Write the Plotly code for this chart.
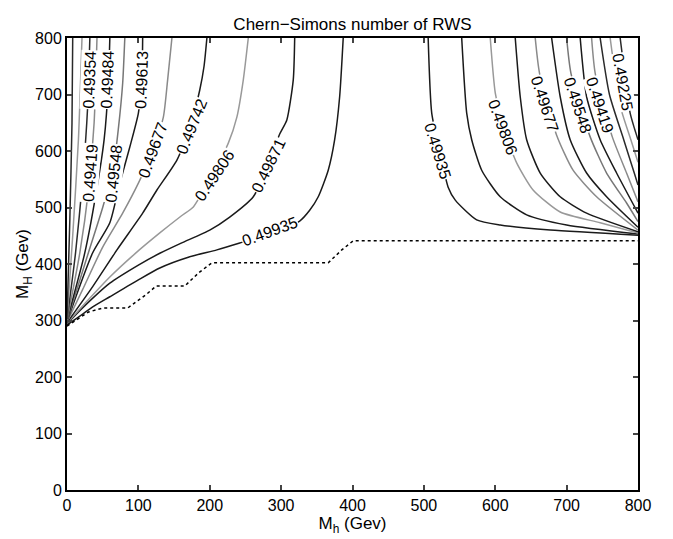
import plotly.graph_objects as go

# -------------------------------------------------
# Data (M_h, M_H in GeV)
# -------------------------------------------------
levels = [0.49935, 0.49871, 0.49806, 0.49742, 0.49677, 0.49613,
          0.49548, 0.49484, 0.49419, 0.49354, 0.4929, 0.49225]

# left-hand branch of each contour, same order as levels
left_49935_x = [0, 15, 36, 60, 100, 130, 170, 210, 242, 280, 326, 340, 352, 366, 375, 382, 387]
left_49935_y = [292, 305, 324, 342, 372, 393, 412, 425, 437, 452, 476, 495, 519, 566, 620, 696, 800]
left_49871_x = [0, 20, 60, 100, 130, 160, 200, 228, 261, 280, 298, 308, 317, 319]
left_49871_y = [294, 320, 366, 398, 419, 437, 460, 483, 519, 570, 630, 655, 726, 800]
left_49806_x = [0, 25, 60, 95, 130, 160, 177, 200, 226, 238, 247, 254]
left_49806_y = [295, 330, 377, 418, 455, 485, 501, 550, 614, 660, 726, 800]
left_49742_x = [0, 36, 70, 106, 126, 154, 172, 186, 192, 196]
left_49742_y = [296, 360, 425, 490, 531, 584, 640, 708, 750, 800]
left_49677_x = [0, 22, 50, 78, 100, 120, 135, 141, 147]
left_49677_y = [297, 355, 430, 490, 543, 600, 660, 726, 800]
left_49613_x = [0, 36, 60, 74, 88, 100, 105, 106]
left_49613_y = [298, 420, 473, 543, 607, 667, 730, 800]
left_49548_x = [0, 30, 50, 65, 72, 78, 81]
left_49548_y = [299, 420, 500, 570, 640, 720, 800]
left_49484_x = [0, 25, 40, 52, 58, 60]
left_49484_y = [300, 420, 520, 620, 720, 800]
left_49419_x = [0, 18, 30, 38, 42]
left_49419_y = [300, 420, 530, 650, 800]
left_49354_x = [0, 12, 22, 29, 32]
left_49354_y = [301, 420, 550, 680, 800]
left_4929_x = [0, 8, 16, 21]
left_4929_y = [301, 450, 620, 800]
left_49225_x = [0, 4, 7, 8]
left_49225_y = [302, 480, 650, 800]

# right-hand branch of each contour
right_49935_x = [506, 511, 522, 534, 544, 574, 607, 677, 800]
right_49935_y = [800, 667, 600, 536, 513, 478, 469, 460, 451]
right_49871_x = [553, 560, 567, 581, 607, 644, 700, 800]
right_49871_y = [800, 667, 620, 566, 519, 487, 469, 453]
right_49806_x = [593, 600, 611, 630, 653, 691, 747, 800]
right_49806_y = [800, 703, 642, 579, 531, 492, 473, 455]
right_49742_x = [628, 635, 644, 663, 691, 728, 800]
right_49742_y = [800, 696, 620, 561, 519, 490, 457]
right_49677_x = [656, 662, 686, 709, 742, 800]
right_49677_y = [800, 738, 628, 566, 519, 460]
right_49613_x = [679, 691, 705, 728, 756, 800]
right_49613_y = [800, 696, 620, 561, 519, 465]
right_49548_x = [700, 706, 733, 756, 784, 800]
right_49548_y = [800, 738, 625, 561, 508, 475]
right_49484_x = [719, 728, 747, 770, 800]
right_49484_y = [800, 696, 620, 561, 490]
right_49419_x = [735, 740, 764, 784, 800]
right_49419_y = [800, 738, 625, 561, 510]
right_49354_x = [747, 760, 780, 795, 800]
right_49354_y = [800, 700, 620, 560, 540]
right_4929_x = [761, 775, 790, 800]
right_4929_y = [800, 680, 620, 580]
right_49225_x = [775, 779, 789, 795, 800]
right_49225_y = [800, 760, 667, 640, 620]

# dotted boundary
bound_x = [0, 30, 50, 85, 110, 125, 165, 185, 203, 366, 385, 401, 800]
bound_y = [290, 315, 322, 322, 345, 361, 361, 385, 402, 402, 425, 441, 441]

# inline contour labels
label_text = ["0.49354", "0.49484", "0.49613", "0.49419", "0.49548", "0.49677",
              "0.49742", "0.49806", "0.49871", "0.49935",
              "0.49935", "0.49806", "0.49677", "0.49548", "0.49419", "0.49225"]
label_x = [32, 57, 105, 32, 65, 121, 175, 207, 282, 284, 520, 611, 670, 716, 747, 779]
label_y = [726, 726, 726, 561, 561, 602, 643, 556, 575, 457, 600, 642, 683, 681, 681, 722]

# -------------------------------------------------
# Plot
# -------------------------------------------------
left_lines = [
    (left_49935_x, left_49935_y), (left_49871_x, left_49871_y),
    (left_49806_x, left_49806_y), (left_49742_x, left_49742_y),
    (left_49677_x, left_49677_y), (left_49613_x, left_49613_y),
    (left_49548_x, left_49548_y), (left_49484_x, left_49484_y),
    (left_49419_x, left_49419_y), (left_49354_x, left_49354_y),
    (left_4929_x, left_4929_y), (left_49225_x, left_49225_y),
]
right_lines = [
    (right_49935_x, right_49935_y), (right_49871_x, right_49871_y),
    (right_49806_x, right_49806_y), (right_49742_x, right_49742_y),
    (right_49677_x, right_49677_y), (right_49613_x, right_49613_y),
    (right_49548_x, right_49548_y), (right_49484_x, right_49484_y),
    (right_49419_x, right_49419_y), (right_49354_x, right_49354_y),
    (right_4929_x, right_4929_y), (right_49225_x, right_49225_y),
]
line_colors = ["#1a1a1a", "#1a1a1a", "#999999", "#1a1a1a", "#8a8a8a", "#1a1a1a",
               "#777777", "#1a1a1a", "#8a8a8a", "#2a2a2a", "#999999", "#2a2a2a"]

fig = go.Figure()

for i, lev in enumerate(levels):
    for xs, ys in (left_lines[i], right_lines[i]):
        fig.add_trace(go.Scatter(
            x=xs, y=ys, mode="lines",
            line=dict(color=line_colors[i], width=1.5, shape="spline", smoothing=0.6),
            name=str(lev), showlegend=False, hoverinfo="skip"
        ))

fig.add_trace(go.Scatter(
    x=bound_x, y=bound_y, mode="lines",
    line=dict(color="black", width=1.5, dash="dot"),
    showlegend=False, hoverinfo="skip"
))

label_angles = [-88, -88, -88, -86, -84, -70, -68, -56, -64, -20,
                73, 70, 72, 72, 72, 80]
for t, x, y, a in zip(label_text, label_x, label_y, label_angles):
    fig.add_annotation(
        x=x, y=y, text=t, textangle=a, showarrow=False,
        font=dict(size=16, color="black"),
        bgcolor="white", borderpad=0
    )

# page body adds an 8px offset, so the figure is sized to fit the window
fig.update_layout(
    width=665, height=531,
    margin=dict(l=59, r=35, t=30, b=49),
    paper_bgcolor="white", plot_bgcolor="white",
    font=dict(family="Liberation Sans, Arial, sans-serif", size=16, color="black"),
    title=dict(text="Chern\u2212Simons number of RWS", x=0.5, xanchor="center",
               xref="paper", yref="paper", y=1, yanchor="bottom",
               pad=dict(b=8), font=dict(size=17)),
)
fig.update_xaxes(
    range=[0, 800], tickvals=[0, 100, 200, 300, 400, 500, 600, 700, 800],
    ticks="inside", ticklen=5, tickwidth=1.5, mirror="allticks",
    showline=True, linecolor="black", linewidth=2, showgrid=False, zeroline=False,
    automargin=False,
    title=dict(text="M<sub>h</sub> (Gev)", standoff=0, font=dict(size=17)),
)
fig.update_yaxes(
    range=[0, 800], tickvals=[0, 100, 200, 300, 400, 500, 600, 700, 800],
    ticks="inside", ticklen=5, tickwidth=1.5, mirror="allticks",
    showline=True, linecolor="black", linewidth=2, showgrid=False, zeroline=False,
    automargin=False,
    title=dict(text="M<sub>H</sub> (Gev)", standoff=2, font=dict(size=17)),
)

fig.write_html("out.html")
